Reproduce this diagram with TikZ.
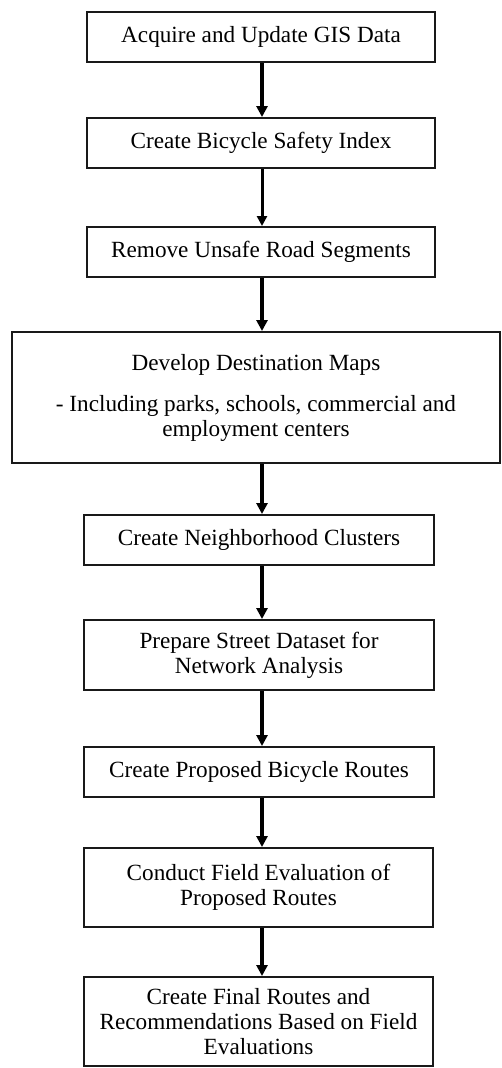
\documentclass[tikz,border=0pt]{standalone}
\usepackage{fontspec}
\setmainfont{Liberation Serif}
\usetikzlibrary{arrows.meta}
\begin{document}
\begin{tikzpicture}[x=1pt,y=-1pt,
  stepbox/.style={draw=black!90,line width=2pt,fill=white,inner sep=0pt,
    align=center,font=\fontsize{23.2}{25}\selectfont},
  flow/.style={draw=black,line width=3.5pt,-{Triangle[length=11pt,width=11pt]}},
  thinflow/.style={draw=black,line width=3pt,-{Triangle[length=10pt,width=10pt]}}]
\useasboundingbox (0,0) rectangle (501,1068);
\node[stepbox,minimum width=348pt,minimum height=50pt] (b1) at (261,37) {Acquire and Update GIS Data};
\node[stepbox,minimum width=348pt,minimum height=50pt] (b2) at (261,143) {Create Bicycle Safety Index};
\node[stepbox,minimum width=348pt,minimum height=50pt] (b3) at (261,252) {Remove Unsafe Road Segments};
\node[stepbox,minimum width=488pt,minimum height=131pt] (b4) at (256,397.5) {Develop Destination Maps\\[16pt]- Including parks, schools, commercial and\\employment centers};
\node[stepbox,minimum width=350pt,minimum height=50pt] (b5) at (259,540) {Create Neighborhood Clusters};
\node[stepbox,minimum width=350pt,minimum height=70pt] (b6) at (259,655) {Prepare Street Dataset for\\Network Analysis};
\node[stepbox,minimum width=350pt,minimum height=50pt] (b7) at (259,772) {Create Proposed Bicycle Routes};
\node[stepbox,minimum width=349pt,minimum height=79pt] (b8) at (258.5,887.5) {Conduct Field Evaluation of\\Proposed Routes};
\node[stepbox,minimum width=349pt,minimum height=89pt] (b9) at (258.5,1021.5) {Create Final Routes and\\Recommendations Based on Field\\Evaluations};
\draw[flow] ([xshift=1pt]b1.south) -- ([xshift=1pt]b2.north);
\draw[thinflow] ([xshift=1pt]b2.south) -- ([xshift=1pt]b3.north);
\draw[flow] ([xshift=1pt]b3.south) -- ([xshift=1pt]b3.south |- b4.north);
\draw[flow] ([xshift=6pt]b4.south) -- ([xshift=6pt]b4.south |- b5.north);
\draw[flow] ([xshift=3pt]b5.south) -- ([xshift=3pt]b6.north);
\draw[flow] ([xshift=3pt]b6.south) -- ([xshift=3pt]b7.north);
\draw[flow] ([xshift=3pt]b7.south) -- ([xshift=3.5pt]b8.north);
\draw[flow] ([xshift=3.5pt]b8.south) -- ([xshift=3.5pt]b9.north);
\end{tikzpicture}
\end{document}
